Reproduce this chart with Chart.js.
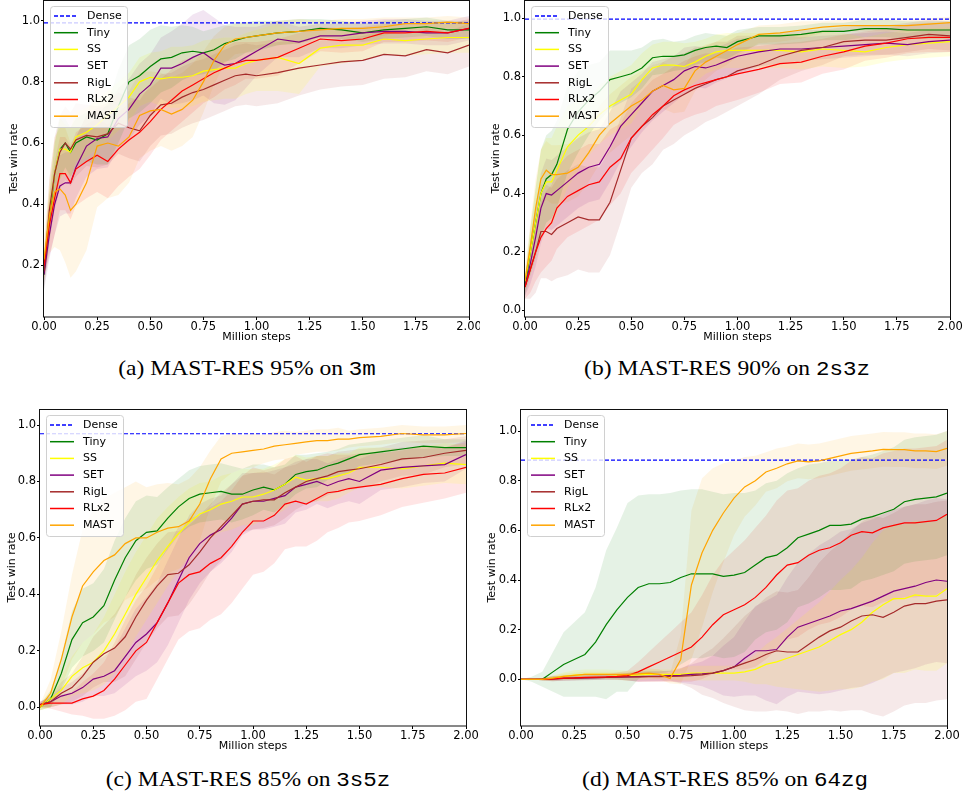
<!DOCTYPE html>
<html>
<head>
<meta charset="utf-8">
<script src="https://cdn.jsdelivr.net/npm/chart.js@4.4.0/dist/chart.umd.min.js"></script>
<style>
  body { margin: 0; background: #fff; }
  #fig { position: relative; width: 964px; height: 793px; overflow: hidden; }
  #fig canvas { position: absolute; }
  .cap { position: absolute; font-family: "Liberation Serif", serif; font-size: 22px; line-height: 22px;
         white-space: nowrap; transform: translateX(-50%) scaleX(1.07); color: #000; }
  .cap .tt { font-family: "Liberation Mono", monospace; font-size: 21px; }
</style>
</head>
<body>
<div id="fig">
  <canvas id="ca" width="480" height="345" style="left:0;top:0"></canvas>
  <canvas id="cb" width="482" height="345" style="left:482px;top:0"></canvas>
  <canvas id="cc" width="480" height="354" style="left:0;top:400px"></canvas>
  <canvas id="cd" width="482" height="354" style="left:482px;top:400px"></canvas>
  <div class="cap" style="left:247px;top:357px">(a) MAST-RES 95% on <span class="tt">3m</span></div>
  <div class="cap" style="left:727px;top:357px">(b) MAST-RES 90% on <span class="tt">2s3z</span></div>
  <div class="cap" style="left:248px;top:768px">(c) MAST-RES 85% on <span class="tt">3s5z</span></div>
  <div class="cap" style="left:725px;top:768px">(d) MAST-RES 85% on <span class="tt">64zg</span></div>
</div>
<script>
// series names and colours (same in all four panels)
const seriesNames = ['Dense', 'Tiny', 'SS', 'SET', 'RigL', 'RLx2', 'MAST'];
const seriesColors = ['blue', 'green', 'yellow', 'purple', 'brown', 'red', 'orange'];
const bandColors = ['rgba(0,128,0,0.1)', 'rgba(255,255,0,0.12)', 'rgba(128,0,128,0.1)',
                    'rgba(165,42,42,0.1)', 'rgba(255,0,0,0.1)', 'rgba(255,165,0,0.1)'];

// ---------- (a) 3m ----------
const stepsA = [0, 0.025, 0.05, 0.075, 0.1, 0.125, 0.15, 0.2, 0.25, 0.3, 0.35, 0.4, 0.45, 0.5, 0.55, 0.6, 0.65, 0.7, 0.75, 0.8, 0.85, 0.9, 0.95, 1.0, 1.1, 1.2, 1.3, 1.4, 1.5, 1.6, 1.7, 1.8, 1.9, 2.0];
const denseA = 0.993;
const tinyA   = [0.17, 0.35, 0.5, 0.58, 0.6, 0.57, 0.6, 0.62, 0.61, 0.63, 0.72, 0.8, 0.82, 0.85, 0.875, 0.88, 0.895, 0.9, 0.895, 0.905, 0.925, 0.935, 0.945, 0.95, 0.96, 0.965, 0.975, 0.97, 0.96, 0.97, 0.975, 0.98, 0.97, 0.97];
const tinyASd = [0.05, 0.08, 0.1, 0.1, 0.08, 0.08, 0.08, 0.08, 0.08, 0.1, 0.12, 0.12, 0.12, 0.12, 0.11, 0.1, 0.09, 0.08, 0.07, 0.07, 0.06, 0.06, 0.05, 0.05, 0.04, 0.04, 0.03, 0.03, 0.03, 0.03, 0.03, 0.03, 0.03, 0.03];
const ssA     = [0.2, 0.37, 0.5, 0.58, 0.58, 0.57, 0.62, 0.635, 0.66, 0.69, 0.72, 0.75, 0.8, 0.815, 0.81, 0.815, 0.815, 0.82, 0.835, 0.84, 0.845, 0.845, 0.86, 0.87, 0.88, 0.86, 0.91, 0.92, 0.92, 0.94, 0.935, 0.94, 0.945, 0.945];
const ssASd   = [0.05, 0.08, 0.1, 0.1, 0.08, 0.08, 0.08, 0.08, 0.08, 0.08, 0.08, 0.08, 0.08, 0.08, 0.09, 0.1, 0.1, 0.1, 0.1, 0.1, 0.1, 0.1, 0.1, 0.1, 0.11, 0.1, 0.06, 0.06, 0.05, 0.05, 0.05, 0.05, 0.05, 0.05];
const setA    = [0.17, 0.3, 0.4, 0.46, 0.47, 0.47, 0.52, 0.59, 0.615, 0.62, 0.68, 0.71, 0.76, 0.79, 0.845, 0.845, 0.86, 0.88, 0.895, 0.87, 0.855, 0.86, 0.88, 0.9, 0.94, 0.93, 0.95, 0.95, 0.96, 0.965, 0.965, 0.96, 0.96, 0.975];
const setASd  = [0.05, 0.08, 0.1, 0.1, 0.1, 0.1, 0.1, 0.1, 0.1, 0.1, 0.1, 0.1, 0.1, 0.1, 0.1, 0.12, 0.13, 0.14, 0.14, 0.14, 0.13, 0.12, 0.1, 0.08, 0.06, 0.05, 0.04, 0.04, 0.04, 0.04, 0.04, 0.04, 0.04, 0.04];
const riglA   = [0.18, 0.38, 0.5, 0.57, 0.6, 0.58, 0.61, 0.625, 0.62, 0.63, 0.665, 0.65, 0.64, 0.69, 0.725, 0.73, 0.75, 0.765, 0.775, 0.79, 0.805, 0.82, 0.825, 0.82, 0.83, 0.845, 0.855, 0.865, 0.87, 0.89, 0.885, 0.905, 0.895, 0.92];
const riglASd = [0.05, 0.1, 0.12, 0.12, 0.12, 0.12, 0.12, 0.1, 0.1, 0.1, 0.1, 0.1, 0.1, 0.1, 0.1, 0.1, 0.1, 0.1, 0.1, 0.1, 0.1, 0.1, 0.1, 0.1, 0.1, 0.09, 0.08, 0.08, 0.08, 0.08, 0.07, 0.07, 0.07, 0.07];
const rlx2A   = [0.2, 0.33, 0.42, 0.5, 0.5, 0.47, 0.515, 0.54, 0.56, 0.54, 0.58, 0.61, 0.635, 0.67, 0.71, 0.74, 0.77, 0.79, 0.81, 0.83, 0.845, 0.86, 0.87, 0.87, 0.88, 0.91, 0.94, 0.935, 0.94, 0.96, 0.96, 0.965, 0.96, 0.975];
const rlx2ASd = [0.05, 0.1, 0.12, 0.12, 0.12, 0.12, 0.12, 0.12, 0.12, 0.12, 0.12, 0.12, 0.12, 0.11, 0.1, 0.1, 0.1, 0.09, 0.08, 0.08, 0.07, 0.07, 0.06, 0.06, 0.06, 0.05, 0.04, 0.04, 0.04, 0.03, 0.03, 0.03, 0.03, 0.03];
const mastA   = [0.22, 0.36, 0.44, 0.45, 0.43, 0.38, 0.4, 0.47, 0.59, 0.6, 0.59, 0.62, 0.69, 0.705, 0.71, 0.695, 0.71, 0.74, 0.8, 0.87, 0.92, 0.94, 0.945, 0.95, 0.96, 0.965, 0.97, 0.975, 0.975, 0.98, 0.99, 0.99, 0.995, 0.99];
const mastASd = [0.06, 0.12, 0.18, 0.2, 0.22, 0.22, 0.22, 0.22, 0.2, 0.18, 0.16, 0.15, 0.14, 0.13, 0.12, 0.12, 0.12, 0.12, 0.1, 0.08, 0.06, 0.05, 0.05, 0.04, 0.04, 0.04, 0.03, 0.03, 0.03, 0.03, 0.02, 0.02, 0.02, 0.02];

// ---------- (b) 2s3z ----------
const stepsB = stepsA;
const denseB = 0.997;
const tinyB   = [0.08, 0.2, 0.3, 0.4, 0.45, 0.465, 0.5, 0.62, 0.68, 0.72, 0.75, 0.79, 0.8, 0.81, 0.83, 0.865, 0.87, 0.87, 0.875, 0.89, 0.9, 0.905, 0.9, 0.92, 0.94, 0.94, 0.945, 0.955, 0.955, 0.965, 0.965, 0.96, 0.96, 0.96];
const tinyBSd = [0.03, 0.08, 0.12, 0.15, 0.15, 0.15, 0.15, 0.15, 0.14, 0.12, 0.1, 0.1, 0.09, 0.08, 0.07, 0.06, 0.06, 0.05, 0.05, 0.05, 0.05, 0.04, 0.04, 0.04, 0.03, 0.03, 0.03, 0.03, 0.03, 0.03, 0.03, 0.03, 0.03, 0.03];
const ssB     = [0.1, 0.2, 0.3, 0.4, 0.44, 0.44, 0.48, 0.56, 0.6, 0.63, 0.67, 0.7, 0.72, 0.74, 0.79, 0.83, 0.84, 0.84, 0.835, 0.85, 0.87, 0.885, 0.89, 0.89, 0.89, 0.89, 0.885, 0.895, 0.89, 0.885, 0.9, 0.91, 0.915, 0.92];
const ssBSd   = [0.03, 0.08, 0.12, 0.15, 0.15, 0.15, 0.15, 0.14, 0.12, 0.1, 0.1, 0.1, 0.1, 0.1, 0.09, 0.08, 0.08, 0.08, 0.08, 0.07, 0.06, 0.06, 0.06, 0.06, 0.06, 0.06, 0.06, 0.06, 0.06, 0.05, 0.05, 0.05, 0.05, 0.05];
const setB    = [0.08, 0.16, 0.25, 0.35, 0.4, 0.395, 0.41, 0.44, 0.47, 0.49, 0.5, 0.56, 0.63, 0.67, 0.71, 0.75, 0.77, 0.79, 0.82, 0.835, 0.83, 0.84, 0.855, 0.87, 0.885, 0.895, 0.895, 0.9, 0.905, 0.91, 0.915, 0.91, 0.92, 0.925];
const setBSd  = [0.03, 0.07, 0.1, 0.12, 0.12, 0.12, 0.12, 0.12, 0.12, 0.12, 0.12, 0.12, 0.12, 0.11, 0.1, 0.1, 0.09, 0.08, 0.08, 0.07, 0.07, 0.06, 0.06, 0.06, 0.05, 0.05, 0.04, 0.04, 0.04, 0.04, 0.04, 0.04, 0.04, 0.04];
const riglB   = [0.08, 0.14, 0.2, 0.27, 0.27, 0.26, 0.28, 0.3, 0.32, 0.31, 0.31, 0.37, 0.48, 0.59, 0.63, 0.66, 0.7, 0.72, 0.74, 0.76, 0.775, 0.79, 0.8, 0.82, 0.84, 0.87, 0.89, 0.9, 0.92, 0.925, 0.925, 0.935, 0.945, 0.94];
const riglBSd = [0.04, 0.1, 0.14, 0.16, 0.16, 0.16, 0.17, 0.18, 0.18, 0.18, 0.18, 0.18, 0.18, 0.17, 0.16, 0.16, 0.15, 0.15, 0.14, 0.14, 0.13, 0.13, 0.12, 0.12, 0.1, 0.08, 0.07, 0.06, 0.05, 0.05, 0.05, 0.05, 0.05, 0.05];
const rlx2B   = [0.08, 0.14, 0.2, 0.25, 0.28, 0.3, 0.35, 0.39, 0.41, 0.43, 0.44, 0.49, 0.52, 0.59, 0.63, 0.67, 0.7, 0.735, 0.755, 0.77, 0.78, 0.79, 0.8, 0.81, 0.825, 0.845, 0.85, 0.87, 0.885, 0.905, 0.915, 0.93, 0.935, 0.935];
const rlx2BSd = [0.04, 0.08, 0.1, 0.12, 0.13, 0.13, 0.14, 0.14, 0.14, 0.14, 0.13, 0.13, 0.12, 0.12, 0.12, 0.12, 0.11, 0.1, 0.1, 0.1, 0.1, 0.09, 0.09, 0.09, 0.08, 0.07, 0.07, 0.06, 0.06, 0.05, 0.05, 0.05, 0.05, 0.05];
const mastB   = [0.1, 0.22, 0.35, 0.45, 0.48, 0.465, 0.465, 0.47, 0.49, 0.54, 0.6, 0.64, 0.67, 0.7, 0.72, 0.75, 0.77, 0.755, 0.76, 0.82, 0.85, 0.87, 0.89, 0.91, 0.945, 0.95, 0.96, 0.97, 0.975, 0.975, 0.975, 0.975, 0.98, 0.985];
const mastBSd = [0.04, 0.08, 0.1, 0.1, 0.1, 0.1, 0.1, 0.1, 0.1, 0.1, 0.1, 0.1, 0.1, 0.1, 0.1, 0.09, 0.08, 0.08, 0.08, 0.07, 0.06, 0.05, 0.05, 0.04, 0.03, 0.03, 0.03, 0.02, 0.02, 0.02, 0.02, 0.02, 0.02, 0.02];

// ---------- (c) 3s5z ----------
const stepsC = [0, 0.05, 0.1, 0.15, 0.2, 0.25, 0.3, 0.35, 0.4, 0.45, 0.5, 0.55, 0.6, 0.65, 0.7, 0.75, 0.8, 0.85, 0.9, 0.95, 1.0, 1.05, 1.1, 1.15, 1.2, 1.25, 1.3, 1.35, 1.4, 1.45, 1.5, 1.6, 1.7, 1.8, 1.9, 2.0];
const denseC = 0.969;
const tinyC   = [0, 0.03, 0.12, 0.24, 0.3, 0.32, 0.36, 0.45, 0.53, 0.59, 0.62, 0.625, 0.67, 0.71, 0.74, 0.755, 0.76, 0.765, 0.755, 0.755, 0.77, 0.78, 0.77, 0.79, 0.825, 0.835, 0.84, 0.855, 0.865, 0.88, 0.895, 0.905, 0.915, 0.925, 0.92, 0.92];
const tinyCSd = [0.01, 0.03, 0.06, 0.1, 0.12, 0.12, 0.13, 0.14, 0.14, 0.14, 0.13, 0.12, 0.11, 0.1, 0.1, 0.1, 0.1, 0.1, 0.1, 0.09, 0.09, 0.08, 0.08, 0.07, 0.07, 0.06, 0.06, 0.05, 0.05, 0.05, 0.04, 0.04, 0.04, 0.04, 0.03, 0.03];
const ssC     = [0, 0.03, 0.06, 0.11, 0.14, 0.16, 0.2, 0.26, 0.33, 0.4, 0.46, 0.52, 0.57, 0.615, 0.655, 0.685, 0.7, 0.72, 0.73, 0.745, 0.745, 0.755, 0.77, 0.79, 0.815, 0.805, 0.81, 0.81, 0.82, 0.83, 0.85, 0.85, 0.845, 0.855, 0.865, 0.86];
const ssCSd   = [0.01, 0.03, 0.05, 0.07, 0.09, 0.1, 0.12, 0.14, 0.15, 0.15, 0.15, 0.15, 0.14, 0.13, 0.12, 0.11, 0.1, 0.1, 0.1, 0.1, 0.1, 0.09, 0.09, 0.09, 0.08, 0.08, 0.08, 0.08, 0.08, 0.07, 0.07, 0.07, 0.07, 0.07, 0.07, 0.07];
const setC    = [0.01, 0.02, 0.04, 0.05, 0.07, 0.1, 0.11, 0.13, 0.18, 0.23, 0.26, 0.3, 0.37, 0.45, 0.53, 0.58, 0.61, 0.63, 0.67, 0.72, 0.73, 0.73, 0.74, 0.75, 0.78, 0.79, 0.8, 0.785, 0.8, 0.81, 0.8, 0.84, 0.85, 0.855, 0.86, 0.895];
const setCSd  = [0.01, 0.02, 0.03, 0.04, 0.05, 0.06, 0.07, 0.08, 0.1, 0.12, 0.13, 0.14, 0.15, 0.15, 0.15, 0.14, 0.13, 0.12, 0.12, 0.11, 0.1, 0.1, 0.1, 0.1, 0.09, 0.09, 0.08, 0.08, 0.08, 0.08, 0.08, 0.07, 0.07, 0.06, 0.06, 0.05];
const riglC   = [0.01, 0.02, 0.05, 0.07, 0.11, 0.16, 0.19, 0.21, 0.25, 0.32, 0.38, 0.43, 0.47, 0.475, 0.505, 0.55, 0.6, 0.64, 0.68, 0.72, 0.73, 0.735, 0.735, 0.76, 0.78, 0.8, 0.81, 0.82, 0.835, 0.84, 0.845, 0.86, 0.88, 0.885, 0.9, 0.91];
const riglCSd = [0.01, 0.02, 0.04, 0.05, 0.07, 0.09, 0.1, 0.12, 0.14, 0.15, 0.15, 0.15, 0.15, 0.15, 0.14, 0.13, 0.12, 0.12, 0.11, 0.1, 0.1, 0.1, 0.09, 0.09, 0.08, 0.08, 0.08, 0.07, 0.07, 0.07, 0.07, 0.06, 0.06, 0.06, 0.05, 0.05];
const rlx2C   = [0.01, 0.015, 0.015, 0.015, 0.03, 0.04, 0.06, 0.1, 0.15, 0.2, 0.23, 0.3, 0.37, 0.44, 0.47, 0.48, 0.51, 0.53, 0.57, 0.62, 0.66, 0.66, 0.68, 0.72, 0.73, 0.72, 0.74, 0.76, 0.765, 0.775, 0.78, 0.79, 0.81, 0.825, 0.83, 0.85];
const rlx2CSd = [0.01, 0.02, 0.03, 0.04, 0.06, 0.08, 0.1, 0.13, 0.16, 0.18, 0.2, 0.2, 0.2, 0.2, 0.2, 0.2, 0.2, 0.2, 0.2, 0.2, 0.19, 0.18, 0.17, 0.16, 0.16, 0.15, 0.15, 0.14, 0.13, 0.12, 0.12, 0.11, 0.1, 0.1, 0.09, 0.09];
const mastC   = [0, 0.05, 0.17, 0.32, 0.43, 0.48, 0.52, 0.54, 0.58, 0.6, 0.6, 0.62, 0.635, 0.64, 0.66, 0.72, 0.81, 0.88, 0.9, 0.905, 0.91, 0.915, 0.925, 0.93, 0.935, 0.94, 0.945, 0.945, 0.95, 0.95, 0.955, 0.96, 0.97, 0.965, 0.965, 0.97];
const mastCSd = [0.01, 0.05, 0.1, 0.15, 0.2, 0.22, 0.22, 0.22, 0.2, 0.2, 0.18, 0.17, 0.16, 0.15, 0.15, 0.13, 0.1, 0.08, 0.07, 0.06, 0.06, 0.05, 0.05, 0.05, 0.04, 0.04, 0.04, 0.04, 0.04, 0.03, 0.03, 0.03, 0.03, 0.03, 0.03, 0.03];

// ---------- (d) 64zg ----------
const stepsD = [0, 0.05, 0.1, 0.15, 0.2, 0.25, 0.3, 0.35, 0.4, 0.45, 0.5, 0.55, 0.6, 0.65, 0.7, 0.75, 0.8, 0.85, 0.9, 0.95, 1.0, 1.05, 1.1, 1.15, 1.2, 1.25, 1.3, 1.35, 1.4, 1.45, 1.5, 1.55, 1.6, 1.65, 1.7, 1.75, 1.8, 1.85, 1.9, 1.95, 2.0];
const denseD = 0.883;
const tinyD   = [0, 0, 0, 0.03, 0.06, 0.08, 0.1, 0.15, 0.22, 0.28, 0.33, 0.37, 0.385, 0.385, 0.39, 0.41, 0.425, 0.425, 0.425, 0.415, 0.42, 0.43, 0.46, 0.49, 0.5, 0.53, 0.57, 0.585, 0.6, 0.62, 0.62, 0.625, 0.645, 0.655, 0.67, 0.685, 0.715, 0.725, 0.73, 0.735, 0.75];
const tinyDSd = [0, 0.01, 0.03, 0.08, 0.13, 0.15, 0.17, 0.22, 0.3, 0.33, 0.38, 0.37, 0.36, 0.36, 0.36, 0.35, 0.34, 0.34, 0.33, 0.33, 0.33, 0.32, 0.3, 0.3, 0.3, 0.3, 0.28, 0.28, 0.27, 0.26, 0.26, 0.26, 0.25, 0.25, 0.25, 0.25, 0.25, 0.25, 0.25, 0.25, 0.25];
const ssD     = [0, 0, 0, 0.005, 0.012, 0.017, 0.02, 0.02, 0.02, 0.018, 0.015, 0.018, 0.02, 0.02, 0.02, 0.02, 0.025, 0.025, 0.025, 0.025, 0.025, 0.03, 0.04, 0.06, 0.07, 0.085, 0.1, 0.115, 0.13, 0.155, 0.18, 0.2, 0.23, 0.27, 0.3, 0.325, 0.325, 0.34, 0.335, 0.335, 0.365];
const ssDSd   = [0, 0, 0.005, 0.01, 0.015, 0.02, 0.02, 0.02, 0.02, 0.02, 0.02, 0.02, 0.02, 0.02, 0.02, 0.025, 0.03, 0.03, 0.03, 0.03, 0.03, 0.04, 0.06, 0.08, 0.1, 0.12, 0.14, 0.16, 0.18, 0.2, 0.22, 0.24, 0.26, 0.28, 0.3, 0.3, 0.3, 0.3, 0.3, 0.3, 0.3];
const setD    = [0, 0, 0, 0.002, 0.004, 0.005, 0.006, 0.007, 0.008, 0.009, 0.01, 0.011, 0.012, 0.013, 0.015, 0.016, 0.02, 0.022, 0.025, 0.035, 0.05, 0.085, 0.115, 0.115, 0.12, 0.17, 0.21, 0.225, 0.24, 0.255, 0.275, 0.285, 0.3, 0.315, 0.335, 0.355, 0.365, 0.375, 0.39, 0.4, 0.395];
const setDSd  = [0, 0, 0.005, 0.01, 0.01, 0.01, 0.01, 0.01, 0.01, 0.01, 0.015, 0.02, 0.02, 0.02, 0.02, 0.03, 0.04, 0.05, 0.07, 0.1, 0.12, 0.15, 0.18, 0.2, 0.22, 0.24, 0.26, 0.28, 0.3, 0.31, 0.32, 0.32, 0.33, 0.33, 0.33, 0.33, 0.33, 0.33, 0.33, 0.33, 0.33];
const riglD   = [0, 0, 0, 0.002, 0.004, 0.005, 0.006, 0.007, 0.008, 0.009, 0.01, 0.01, 0.011, 0.011, 0.012, 0.013, 0.015, 0.018, 0.025, 0.035, 0.05, 0.065, 0.08, 0.1, 0.115, 0.11, 0.11, 0.14, 0.17, 0.195, 0.21, 0.235, 0.255, 0.26, 0.25, 0.27, 0.295, 0.305, 0.305, 0.315, 0.32];
const riglDSd = [0, 0, 0.005, 0.01, 0.01, 0.01, 0.01, 0.01, 0.01, 0.01, 0.015, 0.02, 0.02, 0.02, 0.02, 0.03, 0.05, 0.08, 0.1, 0.13, 0.16, 0.19, 0.21, 0.23, 0.24, 0.24, 0.25, 0.27, 0.3, 0.32, 0.34, 0.36, 0.38, 0.4, 0.4, 0.4, 0.4, 0.4, 0.4, 0.4, 0.4];
const rlx2D   = [0, 0, 0, 0.002, 0.005, 0.006, 0.008, 0.009, 0.01, 0.012, 0.015, 0.03, 0.05, 0.07, 0.09, 0.11, 0.13, 0.17, 0.22, 0.26, 0.28, 0.3, 0.33, 0.37, 0.42, 0.46, 0.47, 0.5, 0.52, 0.53, 0.55, 0.58, 0.595, 0.59, 0.61, 0.62, 0.63, 0.63, 0.635, 0.64, 0.665];
const rlx2DSd = [0, 0, 0.005, 0.01, 0.01, 0.01, 0.01, 0.01, 0.01, 0.015, 0.02, 0.04, 0.06, 0.08, 0.1, 0.12, 0.14, 0.17, 0.2, 0.22, 0.24, 0.26, 0.28, 0.29, 0.3, 0.3, 0.3, 0.3, 0.3, 0.3, 0.3, 0.3, 0.3, 0.3, 0.3, 0.3, 0.3, 0.3, 0.3, 0.3, 0.3];
const mastD   = [0, 0, 0, 0.005, 0.012, 0.016, 0.02, 0.02, 0.02, 0.02, 0.02, 0.022, 0.025, 0.02, 0.003, 0.08, 0.38, 0.51, 0.6, 0.67, 0.73, 0.775, 0.8, 0.835, 0.85, 0.868, 0.88, 0.876, 0.88, 0.89, 0.9, 0.91, 0.915, 0.92, 0.926, 0.925, 0.925, 0.92, 0.92, 0.917, 0.93];
const mastDSd = [0, 0, 0.005, 0.01, 0.01, 0.01, 0.01, 0.01, 0.01, 0.01, 0.01, 0.015, 0.02, 0.02, 0.02, 0.1, 0.3, 0.3, 0.25, 0.2, 0.15, 0.12, 0.1, 0.08, 0.08, 0.07, 0.07, 0.07, 0.07, 0.07, 0.07, 0.07, 0.07, 0.07, 0.07, 0.07, 0.07, 0.07, 0.07, 0.07, 0.07];

// builds the dense line, then for each method a shaded band (mean +- sd) and the mean line
function buildDatasets(steps, dense, means, sds) {
  const ds = [{
    label: 'Dense', data: [{x: 0, y: dense}, {x: 2, y: dense}],
    borderColor: 'blue', borderDash: [4, 2], borderWidth: 1.2, fill: false, order: 10
  }];
  means.forEach((m, k) => {
    const sd = sds[k];
    ds.push({
      label: seriesNames[k + 1] + ' hi', data: steps.map((x, i) => ({x: x, y: m[i] + sd[i]})),
      borderWidth: 0, backgroundColor: bandColors[k], fill: '+1', order: 100 + k
    });
    ds.push({
      label: seriesNames[k + 1] + ' lo', data: steps.map((x, i) => ({x: x, y: m[i] - sd[i]})),
      borderWidth: 0, fill: false, order: 100 + k
    });
    ds.push({
      label: seriesNames[k + 1], data: steps.map((x, i) => ({x: x, y: m[i]})),
      borderColor: seriesColors[k + 1], borderWidth: 1.2, fill: false, order: 9 - k
    });
  });
  return ds;
}

// frame round the plot and the legend in its upper left corner
const framePlugin = {
  id: 'frame',
  afterDraw(chart) {
    const ctx = chart.ctx, a = chart.chartArea;
    ctx.save();
    ctx.strokeStyle = '#111';
    ctx.lineWidth = 1;
    ctx.strokeRect(Math.round(a.left) - 0.5, Math.round(a.top) + 0.5,
                   Math.round(a.right - a.left) + 1, Math.round(a.bottom - a.top) - 0.5);

    const x0 = a.left + 6, y0 = a.top + 6, w = 77, h = 121;
    ctx.beginPath();
    ctx.roundRect(x0 + 0.5, y0 + 0.5, w, h, 3);
    ctx.fillStyle = 'rgba(255,255,255,0.8)';
    ctx.fill();
    ctx.strokeStyle = '#d0d0d0';
    ctx.stroke();
    ctx.font = '11px "DejaVu Sans"';
    ctx.textBaseline = 'middle';
    seriesNames.forEach((name, i) => {
      const y = y0 + 10 + i * 16.7;
      ctx.beginPath();
      ctx.setLineDash(i === 0 ? [4, 2] : []);
      ctx.strokeStyle = seriesColors[i];
      ctx.lineWidth = 1.5;
      ctx.moveTo(x0 + 4, y);
      ctx.lineTo(x0 + 28, y);
      ctx.stroke();
      ctx.fillStyle = '#000';
      ctx.fillText(name, x0 + 37, y);
    });
    ctx.restore();
  }
};

function makeChart(id, steps, dense, means, sds, yMin, yMax, yWidth, pad, titlePad) {
  const tickFont = {family: 'DejaVu Sans', size: 11.5};
  const labelFont = {family: 'DejaVu Sans', size: 11};
  new Chart(document.getElementById(id), {
    type: 'line',
    data: {datasets: buildDatasets(steps, dense, means, sds)},
    options: {
      responsive: false,
      animation: false,
      layout: {padding: pad, autoPadding: false},
      elements: {point: {radius: 0}, line: {tension: 0}},
      plugins: {legend: {display: false}, tooltip: {enabled: false}},
      scales: {
        x: {
          type: 'linear', min: 0, max: 2,
          // fixed height, and no extra room for the end labels (matplotlib lets them overhang)
          afterFit: s => { s.height = 28; s.paddingLeft = 0; s.paddingRight = 0; },
          border: {display: false},
          grid: {drawOnChartArea: false, drawTicks: true, tickLength: 3, color: '#000'},
          ticks: {stepSize: 0.25, padding: 0, maxRotation: 0, autoSkip: false, color: '#000', font: tickFont,
                  callback: v => v.toFixed(2)},
          title: {display: true, text: 'Million steps', color: '#000', font: labelFont, padding: {top: 0, bottom: 1}}
        },
        y: {
          min: yMin, max: yMax,
          afterFit: s => { s.width = yWidth; s.paddingTop = 0; s.paddingBottom = 0; },
          border: {display: false},
          grid: {drawOnChartArea: false, drawTicks: true, tickLength: 3, color: '#000'},
          ticks: {stepSize: 0.2, includeBounds: false, padding: 1, color: '#000', font: tickFont,
                  callback: v => v.toFixed(1)},
          title: {display: true, text: 'Test win rate', color: '#000', font: labelFont, padding: {top: titlePad, bottom: 0}}
        }
      }
    },
    plugins: [framePlugin]
  });
}

makeChart('ca', stepsA, denseA, [tinyA, ssA, setA, riglA, rlx2A, mastA],
          [tinyASd, ssASd, setASd, riglASd, rlx2ASd, mastASd], 0.0315, 1.0675, 44,
          {left: 0, right: 11, top: 0, bottom: 0}, 8);
makeChart('cb', stepsB, denseB, [tinyB, ssB, setB, riglB, rlx2B, mastB],
          [tinyBSd, ssBSd, setBSd, riglBSd, rlx2BSd, mastBSd], -0.0227, 1.0627, 43,
          {left: 0, right: 14, top: 0, bottom: 0}, 8);
makeChart('cc', stepsC, denseC, [tinyC, ssC, setC, riglC, rlx2C, mastC],
          [tinyCSd, ssCSd, setCSd, riglCSd, rlx2CSd, mastCSd], -0.066, 1.0567, 40,
          {left: 0, right: 14, top: 9, bottom: 0}, 6);
makeChart('cd', stepsD, denseD, [tinyD, ssD, setD, riglD, rlx2D, mastD],
          [tinyDSd, ssDSd, setDSd, riglDSd, rlx2DSd, mastDSd], -0.188, 1.0887, 39,
          {left: 0, right: 17, top: 9, bottom: 0}, 4);
</script>
</body>
</html>
